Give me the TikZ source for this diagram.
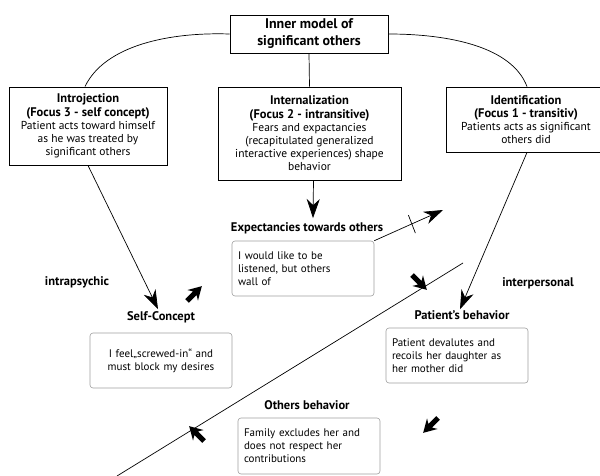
\documentclass[tikz,border=0pt]{standalone}
\usepackage{fontspec}
\setmainfont{PT Sans}
\usetikzlibrary{arrows.meta}
\newcommand{\hd}[1]{{\bfseries\fontsize{12.5}{13.2}\selectfont #1}}
\begin{document}
\begin{tikzpicture}[x=1pt,y=-1pt,
  bigbox/.style={draw, line width=0.9pt, inner sep=0pt, align=center, font=\fontsize{11.5}{13.2}\selectfont},
  softbox/.style={draw=gray!75, line width=0.6pt, rounded corners=3pt, inner ysep=0pt, inner xsep=6pt, font=\fontsize{11}{13}\selectfont},
  head/.style={font=\bfseries\fontsize{12.5}{13}\selectfont, inner sep=0pt},
  conn/.style={line width=0.7pt},
  arr/.style={conn, -{Stealth[length=19pt,width=13pt,inset=6pt]}},
  fatarrow/.pic={\fill (0,-2.6) -- (11,-2.6) -- (8,-7.5) -- (21,0) -- (8,7.5) -- (11,2.6) -- (0,2.6) -- cycle;}
]
\clip (0,0) rectangle (600,476);
% top boxes
\node[bigbox, font=\bfseries\fontsize{14}{17}\selectfont, minimum width=158, minimum height=38] (top) at (309,34) {Inner model of\\significant others};
\node[bigbox, minimum width=158, minimum height=78] (intro) at (88,126)
  {\hd{Introjection}\\\hd{(Focus 3 - self concept)}\\Patient acts toward himself\\as he was treated by\\significant others};
\node[bigbox, minimum width=183, minimum height=93] (intern) at (309.5,133.5)
  {\hd{Internalization}\\\hd{(Focus 2 - intransitive)}\\Fears and expactancies\\(recapitulated generalized\\interactive experiences) shape\\behavior};
\node[bigbox, minimum width=160, minimum height=65] (ident) at (526,119.5)
  {\hd{Identification}\\\hd{(Focus 1 - transitiv)}\\Patients acts as significant\\others did};
% labels
\node[head] (exl) at (307,228) {Expectancies towards others};
\node[head] (scl) at (161,317) {Self-Concept};
\node[head] (pbl) at (462,315) {Patient’s behavior};
\node[head] (obl) at (307,405) {Others behavior};
\node[head] (intra) at (77,282) {intrapsychic};
\node[head] (inter) at (538,283) {interpersonal};
% soft boxes
\node[softbox, text width=130, align=left, minimum height=55] (exbox) at (303,268.5)
  {I would like to be\\listened, but others\\wall of};
\node[softbox, text width=130, align=center, minimum height=55] (scbox) at (161,360.5)
  {I feel„screwed-in“ and\\must block my desires};
\node[softbox, text width=130, align=left, minimum height=55] (pbbox) at (457,355.5)
  {Patient devalutes and\\recoils her daughter as\\her mother did};
\node[softbox, text width=130, align=left, minimum height=56] (obbox) at (309,446)
  {Family excludes her and\\does not respect her\\contributions};
% connectors
\draw[conn] (top.west) .. controls (170,32) and (105,45) .. ([xshift=-3pt]intro.north);
\draw[conn] (top.east) .. controls (450,34) and (512,47) .. ([xshift=1pt]ident.north);
\draw[conn] (top.south) -- (intern.north);
\draw[arr] (intro.south) -- ([xshift=-3pt,yshift=2pt]scl.north);
\draw[arr] ([xshift=4pt]intern.south) -- ([xshift=6pt,yshift=4pt]exl.north);
\draw[arr] ([xshift=1pt]ident.south) -- ([xshift=-2pt,yshift=1pt]pbl.north);
\coordinate (extip) at (443,210);
\draw[arr] (exbox.north east) -- coordinate[pos=0.54] (tk) (extip);
\draw[conn] ([shift={(-3,-9)}]tk) -- ([shift={(4,9)}]tk);
\coordinate (dA) at (117,476);
\coordinate (dB) at (463,263);
\draw[conn] (dA) -- (dB);
% fat arrows
\pic[rotate=45] at (187,301) {fatarrow};
\pic[rotate=-45] at (412,275) {fatarrow};
\pic[rotate=-135] at (438,418) {fatarrow};
\pic[rotate=135] at (204,441) {fatarrow};
\end{tikzpicture}
\end{document}
